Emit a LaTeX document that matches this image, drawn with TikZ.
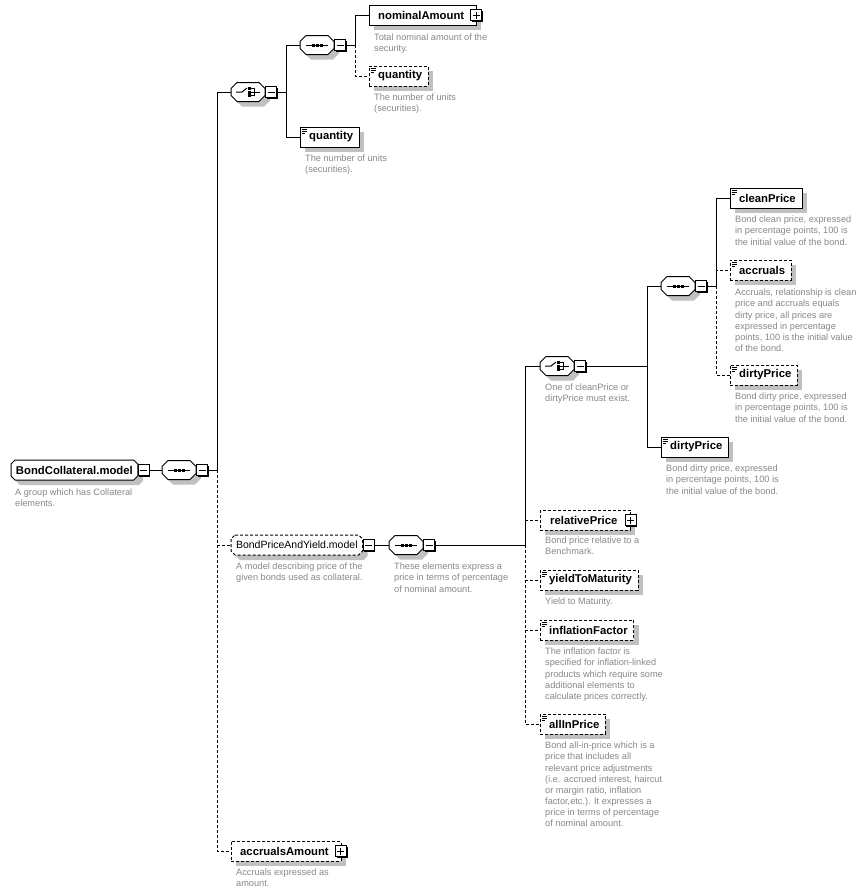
\documentclass[tikz,border=0pt]{standalone}
\usepackage{fontspec}
\setmainfont{Liberation Sans}
\usetikzlibrary{shadows,backgrounds}
\definecolor{descgray}{RGB}{136,136,136}
\definecolor{shadowgray}{RGB}{192,192,192}
\tikzset{
  shd/.style={general shadow={fill=shadowgray, shadow xshift=5pt, shadow yshift=-5pt}},
  opt/.style={dash pattern=on 3pt off 2pt},
  lbl/.style={font=\fontsize{11.3}{13}\selectfont\bfseries},
  elem/.style={draw, fill=white, shd, rectangle, minimum height=20pt, inner xsep=0pt, inner ysep=0pt, anchor=west, lbl},
  ico/.style={path picture={
    \draw[solid, line width=0.7pt]
      ([shift={(1.5pt,-2pt)}]path picture bounding box.north west) -- ++(5pt,0pt)
      ([shift={(1.5pt,-4pt)}]path picture bounding box.north west) -- ++(5pt,0pt)
      ([shift={(1.5pt,-6pt)}]path picture bounding box.north west) -- ++(3.5pt,0pt);}},
  grp/.style={rectangle, minimum height=20pt, inner xsep=5pt, inner ysep=0pt, outer sep=0pt, anchor=west},
  comp/.style={rectangle, minimum width=34pt, minimum height=19pt, inner sep=0pt, outer sep=0pt, anchor=west},
  octfill/.style={draw=black, line width=1pt, fill=white, shd},
  seqicon/.style={path picture={
    \draw[solid, line width=1pt] ([xshift=-11pt]path picture bounding box.center) -- ([xshift=11pt]path picture bounding box.center);
    \fill ([shift={(-5.5pt,-1.5pt)}]path picture bounding box.center) rectangle ([shift={(-2.5pt,1.5pt)}]path picture bounding box.center);
    \fill ([shift={(-1.5pt,-1.5pt)}]path picture bounding box.center) rectangle ([shift={(1.5pt,1.5pt)}]path picture bounding box.center);
    \fill ([shift={(2.5pt,-1.5pt)}]path picture bounding box.center) rectangle ([shift={(5.5pt,1.5pt)}]path picture bounding box.center);}},
  choiceicon/.style={path picture={
    \draw[solid, line width=1pt] ([xshift=-12pt]path picture bounding box.center) -- ([xshift=-6pt]path picture bounding box.center) -- ([shift={(-1pt,4pt)}]path picture bounding box.center);
    \fill ([shift={(0.3pt,2.2pt)}]path picture bounding box.center) rectangle ([shift={(3.3pt,5.2pt)}]path picture bounding box.center);
    \fill ([shift={(0.3pt,-1.5pt)}]path picture bounding box.center) rectangle ([shift={(3.3pt,1.5pt)}]path picture bounding box.center);
    \fill ([shift={(0.3pt,-5.2pt)}]path picture bounding box.center) rectangle ([shift={(3.3pt,-2.2pt)}]path picture bounding box.center);
    \draw[solid, line width=0.8pt] ([shift={(3.3pt,3.7pt)}]path picture bounding box.center) -- ([shift={(6.2pt,3.7pt)}]path picture bounding box.center) -- ([shift={(6.2pt,-3.7pt)}]path picture bounding box.center) -- ([shift={(3.3pt,-3.7pt)}]path picture bounding box.center);
    \draw[solid, line width=1pt] ([xshift=3.3pt]path picture bounding box.center) -- ([xshift=12pt]path picture bounding box.center);}},
  btn/.style={draw, solid, fill=white, minimum size=11pt, inner sep=0pt, line width=1pt, general shadow={fill=black, shadow xshift=1.2pt, shadow yshift=-1.2pt}},
  mbtn/.style={btn, anchor=west, path picture={\draw[line width=1pt] ([xshift=-3.5pt]path picture bounding box.center) -- ([xshift=3.5pt]path picture bounding box.center);}},
  pbtn/.style={btn, path picture={\draw[line width=1pt] ([xshift=-3.5pt]path picture bounding box.center) -- ([xshift=3.5pt]path picture bounding box.center) ([yshift=-3.5pt]path picture bounding box.center) -- ([yshift=3.5pt]path picture bounding box.center);}},
  desc/.style={anchor=north west, inner sep=0pt, align=left, text=descgray, font=\fontsize{9.2}{11.1}\selectfont},
}
% octagon (chamfered box) drawn behind a named node
\newcommand\octo[3]{%
  \begin{pgfonlayer}{background}
  \path[octfill,#3] ([xshift=#2]#1.north west) -- ([xshift=-#2]#1.north east) -- ([yshift=-#2]#1.north east) -- ([yshift=#2]#1.south east) -- ([xshift=-#2]#1.south east) -- ([xshift=#2]#1.south west) -- ([yshift=#2]#1.south west) -- ([yshift=-#2]#1.north west) -- cycle;
  \end{pgfonlayer}}
\begin{document}
\begin{tikzpicture}[x=1pt,y=-1pt,line width=1pt]
\begin{pgfonlayer}{background}
\fill[white] (0,0) rectangle (865,895);
\end{pgfonlayer}
\useasboundingbox (0,0) rectangle (865,895);

% ---------- nodes ----------
\node[grp, lbl] (root) at (11,470) {BondCollateral.model};
\octo{root}{4pt}{}
\node[mbtn] (mroot) at (root.east) {};
\node[comp, seqicon] (s0) at (162,470) {};
\octo{s0}{6pt}{}
\node[mbtn] (ms0) at (s0.east) {};
\coordinate (j0) at (217,470);

\node[comp, choiceicon] (c1) at (231,92) {};
\octo{c1}{6pt}{}
\node[mbtn] (mc1) at (c1.east) {};
\coordinate (j1) at (286,92);

\node[comp, seqicon] (s1) at (300,45) {};
\octo{s1}{6pt}{}
\node[mbtn] (ms1) at (s1.east) {};
\coordinate (j2) at (355,45);

\node[elem] (nom) at (369,15) {\hspace*{9pt}nominalAmount\hspace*{12pt}};
\node[pbtn] (pnom) at (nom.east) {};
\node[elem, ico, opt] (q1) at (369,76) {\hspace*{9pt}quantity\hspace*{6pt}};
\node[elem, ico] (q2) at (300,137) {\hspace*{9pt}quantity\hspace*{6pt}};

\node[grp, font=\fontsize{10.5}{12}\selectfont] (bpy) at (231,545) {BondPriceAndYield.model};
\octo{bpy}{4pt}{opt}
\node[mbtn] (mbpy) at (bpy.east) {};
\node[comp, seqicon] (s2) at (389,545) {};
\octo{s2}{6pt}{}
\node[mbtn] (ms2) at (s2.east) {};
\coordinate (j3) at (525,545);

\node[comp, choiceicon] (c2) at (540,366) {};
\octo{c2}{6pt}{}
\node[mbtn] (mc2) at (c2.east) {};
\coordinate (j4) at (647,366);

\node[comp, seqicon] (s3) at (661,286) {};
\octo{s3}{6pt}{}
\node[mbtn] (ms3) at (s3.east) {};
\coordinate (j5) at (716,286);

\node[elem, ico] (clean) at (730,198) {\hspace*{9pt}cleanPrice\hspace*{6pt}};
\node[elem, ico, opt] (accr) at (730,270) {\hspace*{9pt}accruals\hspace*{6pt}};
\node[elem, ico, opt] (dp1) at (730,375) {\hspace*{9pt}dirtyPrice\hspace*{6pt}};
\node[elem, ico] (dp2) at (661,447) {\hspace*{9pt}dirtyPrice\hspace*{6pt}};

\node[elem, opt] (rel) at (540,520) {\hspace*{10pt}relativePrice\hspace*{13pt}};
\node[pbtn] (prel) at (rel.east) {};
\node[elem, ico, opt] (ytm) at (540,580) {\hspace*{9pt}yieldToMaturity\hspace*{6pt}};
\node[elem, ico, opt] (infl) at (540,630) {\hspace*{9pt}inflationFactor\hspace*{6pt}};
\node[elem, ico, opt] (allin) at (540,724) {\hspace*{9pt}allInPrice\hspace*{6pt}};

\node[elem, opt] (accamt) at (231,851) {\hspace*{9pt}accrualsAmount\hspace*{12pt}};
\node[pbtn] (paccamt) at (accamt.east) {};

% ---------- descriptions ----------
\node[desc] (droot) at (15,489) {A group which has Collateral\\elements.};
\node[desc] (dnom) at (374,34) {Total nominal amount of the\\security.};
\node[desc] (dq1) at (374,94) {The number of units\\(securities).};
\node[desc] (dq2) at (305,155) {The number of units\\(securities).};
\node[desc] (dc2) at (545,384) {One of cleanPrice or\\dirtyPrice must exist.};
\node[desc] (dclean) at (735,216) {Bond clean price, expressed\\in percentage points, 100 is\\the initial value of the bond.};
\node[desc] (daccr) at (735,289) {Accruals, relationship is clean\\price and accruals equals\\dirty price, all prices are\\expressed in percentage\\points, 100 is the initial value\\of the bond.};
\node[desc] (ddp1) at (735,393) {Bond dirty price, expressed\\in percentage points, 100 is\\the initial value of the bond.};
\node[desc] (ddp2) at (666,465) {Bond dirty price, expressed\\in percentage points, 100 is\\the initial value of the bond.};
\node[desc] (dbpy) at (236,563) {A model describing price of the\\given bonds used as collateral.};
\node[desc] (ds2) at (394,563) {These elements express a\\price in terms of percentage\\of nominal amount.};
\node[desc] (drel) at (545,537) {Bond price relative to a\\Benchmark.};
\node[desc] (dytm) at (545,598) {Yield to Maturity.};
\node[desc] (dinfl) at (545,648) {The inflation factor is\\specified for inflation-linked\\products which require some\\additional elements to\\calculate prices correctly.};
\node[desc] (dallin) at (545,742) {Bond all-in-price which is a\\price that includes all\\relevant price adjustments\\(i.e. accrued interest, haircut\\or margin ratio, inflation\\factor,etc.). It expresses a\\price in terms of percentage\\of nominal amount.};
\node[desc] (daccamt) at (236,869) {Accruals expressed as\\amount.};

% ---------- connectors ----------
\draw (mroot.east) -- (s0.west);
\draw (ms0.east) -- (j0);
\draw[opt] (j0) |- (bpy.west);
\draw[opt] (j0) |- (accamt.west);
\draw (j0) |- (c1.west);

\draw (mc1.east) -- (j1);
\draw (j1) |- (s1.west);
\draw (j1) |- (q2.west);

\draw (ms1.east) -- (j2);
\draw[opt] (j2) |- (q1.west);
\draw (j2) |- (nom.west);

\draw (mbpy.east) -- (s2.west);
\draw (ms2.east) -- (j3);
\draw[opt] (j3) |- (rel.west);
\draw[opt] (j3) |- (ytm.west);
\draw[opt] (j3) |- (infl.west);
\draw[opt] (j3) |- (allin.west);
\draw (j3) |- (c2.west);

\draw (mc2.east) -- (j4);
\draw (j4) |- (s3.west);
\draw (j4) |- (dp2.west);

\draw (ms3.east) -- (j5);
\draw[opt] (j5) |- (accr.west);
\draw[opt] (j5) |- (dp1.west);
\draw (j5) |- (clean.west);
\end{tikzpicture}
\end{document}
